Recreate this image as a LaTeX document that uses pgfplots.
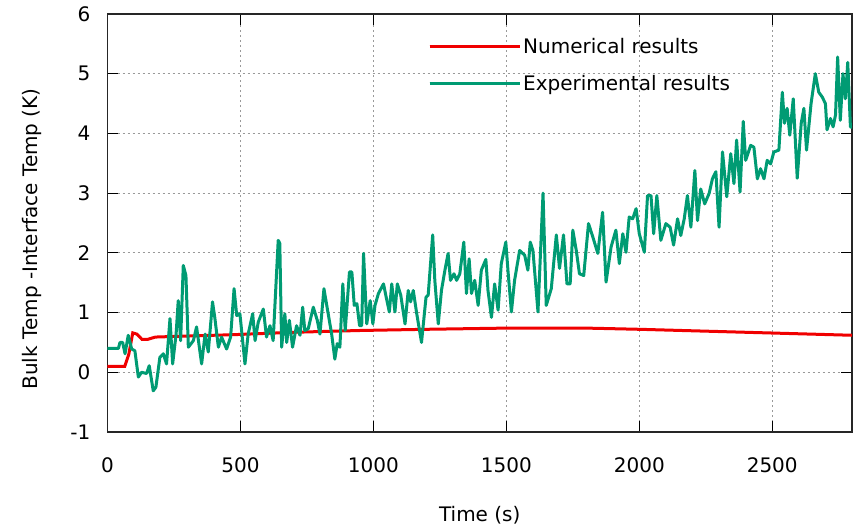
\documentclass[border=0pt]{standalone}
\usepackage{fontspec}
\setmainfont{DejaVu Sans}
\usepackage{pgfplots}
\pgfplotsset{compat=1.18}
\definecolor{expgreen}{RGB}{0,155,115}
\definecolor{numred}{RGB}{240,0,0}
\begin{document}
\begin{tikzpicture}
\useasboundingbox (-107.5pt,-96pt) rectangle (748.5pt,432pt);
\begin{axis}[
  at={(0pt,0pt)}, anchor=south west,
  scale only axis, width=744.5pt, height=418pt,
  xmin=0, xmax=2800, ymin=-1, ymax=6,
  xtick={0,500,1000,1500,2000,2500},
  ytick={-1,0,1,2,3,4,5,6},
  /pgf/number format/1000 sep={},
  /pgf/number format/assume math mode=true,
  tick label style={font=\fontsize{20}{24}\selectfont},
  xticklabel style={anchor=center, inner sep=0pt, yshift=-33pt},
  yticklabel style={anchor=east, inner sep=0pt, xshift=-17pt},
  label style={font=\fontsize{20}{24}\selectfont},
  xlabel={Time (s)},
  ylabel={Bulk Temp -Interface Temp (K)},
  xlabel style={at={(axis description cs:0.5,-0.1986)}, anchor=center},
  ylabel style={at={(axis description cs:-0.1014,0.462)}, anchor=center},
  grid=major,
  major grid style={dash pattern=on 2pt off 3pt, gray!80, line width=0.8pt},
  axis line style={line width=1.2pt, black!85},
  tick style={line width=1pt, black},
  major tick length=11pt,
  tick align=inside,
  legend style={draw=none, fill=none, at={(axis description cs:0.4305,0.948)}, anchor=north west, inner sep=0pt, font=\fontsize{20}{24}\selectfont, row sep=17pt},
  legend cell align=left,
  legend image code/.code={\draw[#1] (0pt,0pt) -- (80pt,0pt); \path (0pt,0pt) -- (90pt,0pt);},
]
\addplot[numred, line width=3pt] coordinates {
(0,0.1)(65,0.1)(80,0.3)(95,0.66)(110,0.64)(130,0.55)(150,0.55)(180,0.59)(250,0.6)(475,0.63)(700,0.67)(950,0.7)(1200,0.72)(1500,0.74)(1800,0.74)(2000,0.72)(2400,0.67)(2800,0.62)
};
\addlegendentry{Numerical results}
\addplot[expgreen, line width=3pt, line join=round] table {
x y
0 0.40
41 0.40
47 0.50
57 0.50
66 0.31
78 0.62
91 0.39
103 0.36
116 -0.08
128 0.00
147 -0.02
157 0.11
172 -0.31
182 -0.25
197 0.25
210 0.31
222 0.14
235 0.90
245 0.14
258 0.64
266 1.20
275 0.53
285 1.79
295 1.62
304 0.42
323 0.53
335 0.76
354 0.14
367 0.64
379 0.34
395 1.18
404 0.90
417 0.42
429 0.59
448 0.39
463 0.59
476 1.40
486 0.95
498 0.98
517 0.14
529 0.64
546 0.98
555 0.53
567 0.84
586 1.06
598 0.59
611 0.78
623 0.53
642 2.21
648 2.16
655 0.42
667 0.98
674 0.50
684 0.87
696 0.42
711 0.78
724 0.62
734 1.09
742 0.70
755 0.73
774 1.09
789 0.87
799 0.64
814 1.40
830 0.98
843 0.64
855 0.22
864 0.48
874 0.42
885 1.48
894 0.70
910 1.68
919 1.68
928 1.12
938 1.15
948 0.78
956 0.78
963 1.99
975 0.81
988 1.20
998 0.81
1006 1.12
1019 1.32
1038 1.48
1048 1.26
1060 1.01
1069 1.48
1081 1.01
1090 1.48
1103 1.29
1119 0.81
1131 1.37
1140 1.18
1150 1.37
1163 0.98
1181 0.50
1198 1.26
1206 1.29
1223 2.30
1231 1.54
1244 0.81
1256 1.37
1269 1.71
1281 1.99
1290 1.54
1303 1.65
1313 1.54
1325 1.65
1340 2.18
1350 1.32
1360 1.90
1369 1.32
1381 1.54
1394 1.12
1406 1.71
1423 1.89
1431 1.37
1444 0.92
1456 1.48
1469 1.04
1481 1.82
1498 2.18
1506 1.71
1519 1.01
1531 1.54
1550 2.04
1569 1.96
1581 1.71
1590 2.18
1600 2.04
1619 1.01
1638 3.00
1650 1.12
1669 1.40
1688 2.30
1700 1.74
1715 2.30
1728 1.48
1740 1.48
1750 2.38
1763 2.04
1775 1.65
1791 1.62
1809 2.49
1825 2.27
1844 1.99
1862 2.68
1875 1.51
1894 2.10
1912 2.38
1925 1.82
1938 2.32
1950 2.01
1962 2.60
1975 2.57
1988 2.74
2000 2.32
2019 2.01
2031 2.96
2044 2.96
2054 2.32
2066 2.96
2081 2.21
2100 2.49
2116 2.43
2129 2.13
2144 2.57
2156 2.29
2169 2.57
2181 2.96
2194 2.43
2209 3.38
2219 2.54
2231 3.07
2246 2.82
2263 3.00
2275 3.24
2288 3.36
2300 2.43
2313 3.69
2329 2.94
2344 3.66
2356 3.16
2366 3.89
2379 3.02
2391 4.20
2400 3.55
2419 3.80
2431 3.77
2444 3.24
2456 3.41
2469 3.24
2481 3.55
2494 3.49
2506 3.69
2525 3.72
2538 4.69
2546 4.17
2556 4.42
2566 3.97
2579 4.58
2594 3.25
2609 4.17
2619 4.42
2629 3.72
2646 4.50
2662 5.00
2675 4.69
2688 4.61
2700 4.50
2706 4.06
2719 4.25
2729 4.11
2738 4.31
2746 5.28
2756 4.22
2766 5.00
2775 4.58
2784 5.19
2794 4.11
2800 4.10
};
\addlegendentry{Experimental results}
\end{axis}
\end{tikzpicture}
\end{document}
